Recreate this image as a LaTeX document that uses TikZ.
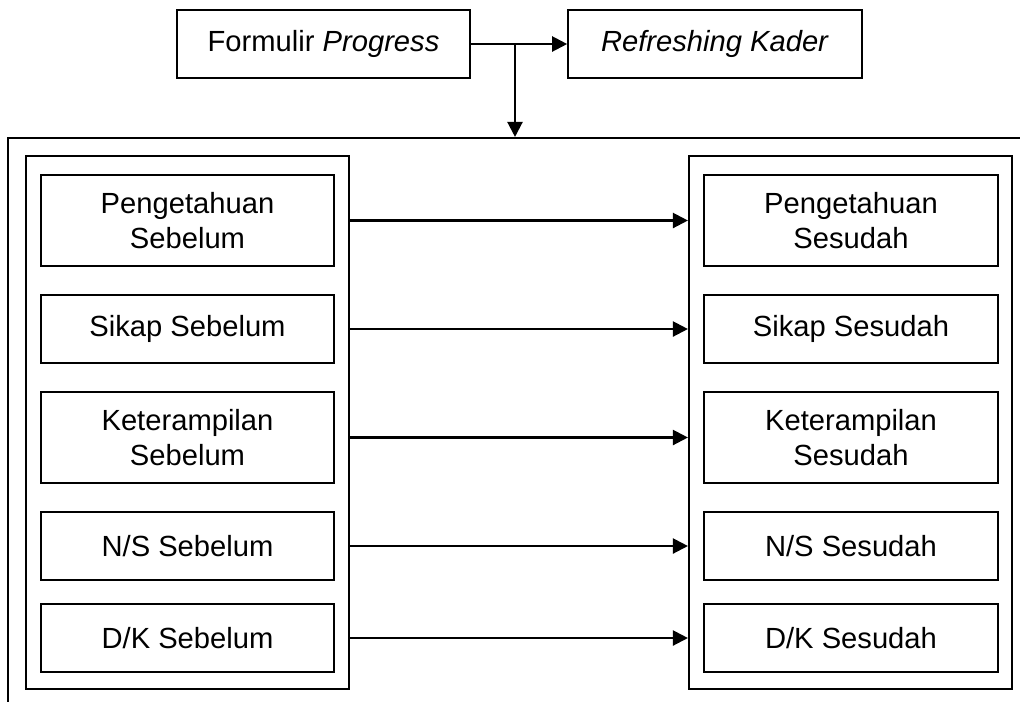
\documentclass[tikz,border=0pt]{standalone}
\usepackage{fontspec}
\setmainfont{Liberation Sans}
\usetikzlibrary{positioning, arrows.meta}

\begin{document}
\begin{tikzpicture}[x=0.02cm, y=-0.02cm, line width=1.25pt,
        box/.style={draw, inner sep=0pt, align=center, minimum width=5.87cm,
            font=\fontsize{16.6}{19.9}\selectfont},
        tallbox/.style={box, minimum height=1.82cm},
        flatbox/.style={box, minimum height=1.36cm},
        frame/.style={draw, inner sep=0pt, minimum width=6.46cm, minimum height=10.66cm},
        arr/.style={-{Triangle[length=0.3cm, width=0.3cm]}}
    ]
      \useasboundingbox (0,0) rectangle (1020,701);
      \clip (0,0) rectangle (1020,701);

      % top row
      \node[flatbox] (formulir) at (323.5,44) {Formulir \textit{Progress}};
      \node[flatbox] (refresh) at (715,44) {\textit{Refreshing Kader}};
      \coordinate (split) at (515,44);

      % outer frame, runs past the page edge
      \node[draw, inner sep=0pt, minimum width=20.44cm, minimum height=11.54cm] (outer) at (519,426.5) {};

      % before / after groups
      \node[frame] (before) at (187.5,422.5) {};
      \node[frame] (after) at (850.5,422.5) {};

      \node[tallbox] (tahuA) at (187.5,220.5) {Pengetahuan\\Sebelum};
      \node[flatbox] (sikapA) at (187.5,329) {Sikap Sebelum};
      \node[tallbox] (trampilA) at (187.5,437.5) {Keterampilan\\Sebelum};
      \node[flatbox] (nsA) at (187.5,546) {N/S Sebelum};
      \node[flatbox] (dkA) at (187.5,638) {D/K Sebelum};

      \node[tallbox] (tahuB) at (851,220.5) {Pengetahuan\\Sesudah};
      \node[flatbox] (sikapB) at (851,329) {Sikap Sesudah};
      \node[tallbox] (trampilB) at (851,437.5) {Keterampilan\\Sesudah};
      \node[flatbox] (nsB) at (851,546) {N/S Sesudah};
      \node[flatbox] (dkB) at (851,638) {D/K Sesudah};

      % connectors
      \draw[arr] (formulir.east) -- (refresh.west);
      \draw[arr] (split) -- (split |- outer.north);
      \foreach \row in {tahu, sikap, trampil, ns, dk}
        \draw[arr] (before.east |- \row A.east) -- (after.west |- \row B.west);
    \end{tikzpicture}
\end{document}
